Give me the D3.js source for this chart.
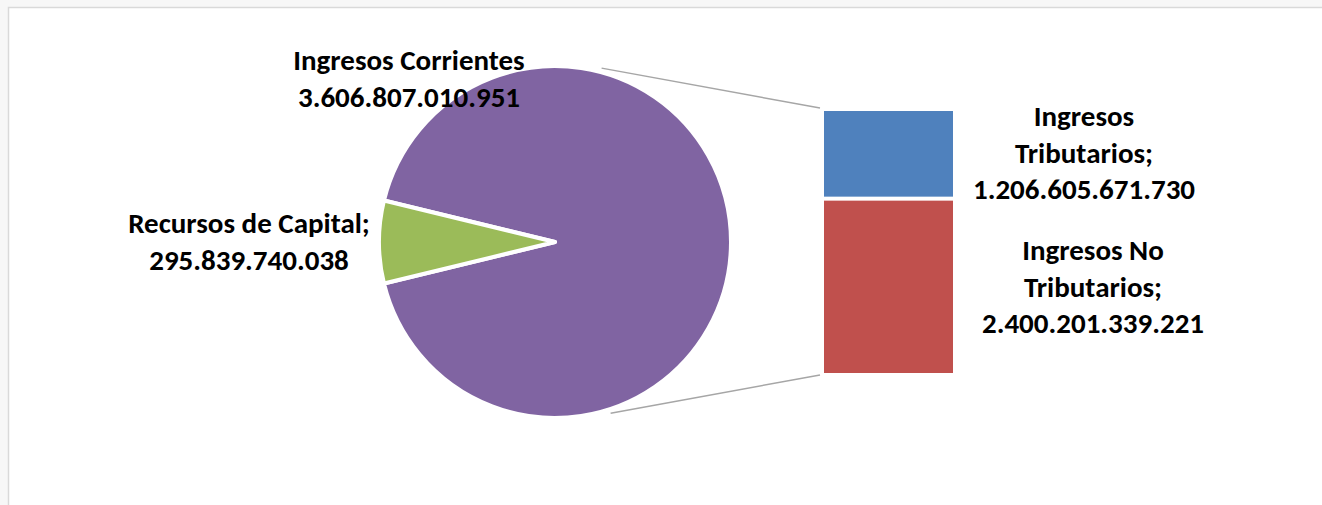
<!DOCTYPE html>
<html>
<head>
<meta charset="utf-8">
<script src="https://cdn.jsdelivr.net/npm/d3@7"></script>
<style>
  html, body { margin: 0; padding: 0; background: #f7f7f7; }
  svg { display: block; }
  text { font-family: Carlito, "Open Sans", Lato, sans-serif; font-weight: bold; fill: #000; }
</style>
</head>
<body>
<svg id="chart" width="1322" height="505"></svg>
<script>
// ---- data ----
const categories = ["Ingresos Corrientes", "Recursos de Capital"];
const values = [3606807010951, 295839740038];
const subCategories = ["Ingresos Tributarios", "Ingresos No Tributarios"];
const subValues = [1206605671730, 2400201339221];
const pieColors = ["#8064A2", "#9BBB59"];
const barColors = ["#4F81BD", "#C0504D"];

// ---- formatting ----
const fmt = d3.formatLocale({decimal: ",", thousands: ".", grouping: [3], currency: ["$", ""]}).format(",d");

const svg = d3.select("#chart");
const W = 1322, H = 505;

// frame
svg.append("rect").attr("x", 8.5).attr("y", 7.5).attr("width", W).attr("height", H)
  .attr("fill", "#fff").attr("stroke", "#d9d9d9").attr("stroke-width", 1.5);

// ---- pie ----
const cx = 555, cy = 242, R = 176;
const total = d3.sum(values);
const g = 2 * Math.PI * values[1] / total;
const pie = d3.pie().sort(null)
  .startAngle(-Math.PI / 2 + g / 2)
  .endAngle(-Math.PI / 2 + g / 2 + 2 * Math.PI);
const arcs = pie(values);
const arc = d3.arc().innerRadius(0).outerRadius(R);

const pg = svg.append("g").attr("transform", `translate(${cx},${cy})`);
pg.selectAll("path").data(arcs).enter().append("path")
  .attr("d", arc)
  .attr("fill", (d, i) => pieColors[i])
  .attr("stroke", "#fff")
  .attr("stroke-width", 4)
  .attr("stroke-linejoin", "round");

// ---- bar (breakdown of first category) ----
const bx0 = 824, bx1 = 953, by0 = 111, by1 = 373, gap = 4;
const y = d3.scaleLinear().domain([0, d3.sum(subValues)]).range([by0, by1]);
let acc = 0;
const stack = subValues.map((v, i) => { const s = {i, v, y0: acc, y1: acc + v}; acc += v; return s; });
svg.selectAll("rect.bar").data(stack).enter().append("rect")
  .attr("class", "bar")
  .attr("x", bx0)
  .attr("width", bx1 - bx0)
  .attr("y", d => y(d.y0) + (d.i > 0 ? gap / 2 : 0))
  .attr("height", d => y(d.y1) - y(d.y0) - (d.i > 0 ? gap / 2 : 0) - (d.i < stack.length - 1 ? gap / 2 : 0))
  .attr("fill", d => barColors[d.i]);

// ---- connector lines ----
const a1 = 15 * Math.PI / 180, a2 = 162 * Math.PI / 180, Rl = R + 4;
const conn = [
  [[cx + Rl * Math.sin(a1), cy - Rl * Math.cos(a1)], [bx0 - 4, by0 - 3]],
  [[cx + Rl * Math.sin(a2), cy - Rl * Math.cos(a2)], [bx0 - 4, by1 + 2]]
];
svg.selectAll("line.conn").data(conn).enter().append("line")
  .attr("class", "conn")
  .attr("x1", d => d[0][0]).attr("y1", d => d[0][1])
  .attr("x2", d => d[1][0]).attr("y2", d => d[1][1])
  .attr("stroke", "#a6a6a6").attr("stroke-width", 1.5);

// ---- labels ----
const fs = 29, lh = 36.5;
function label(x, yb, lines) {
  const t = svg.append("text").attr("text-anchor", "middle").attr("font-size", fs);
  lines.forEach((ln, k) => t.append("tspan").attr("x", x).attr("y", yb + k * lh).text(ln));
}
label(409, 70, [categories[0], fmt(values[0])]);
label(249, 233, [categories[1] + ";", fmt(values[1])]);
label(1084, 126, ["Ingresos", "Tributarios;", fmt(subValues[0])]);
label(1093, 260, ["Ingresos No", "Tributarios;", fmt(subValues[1])]);
</script>
</body>
</html>
